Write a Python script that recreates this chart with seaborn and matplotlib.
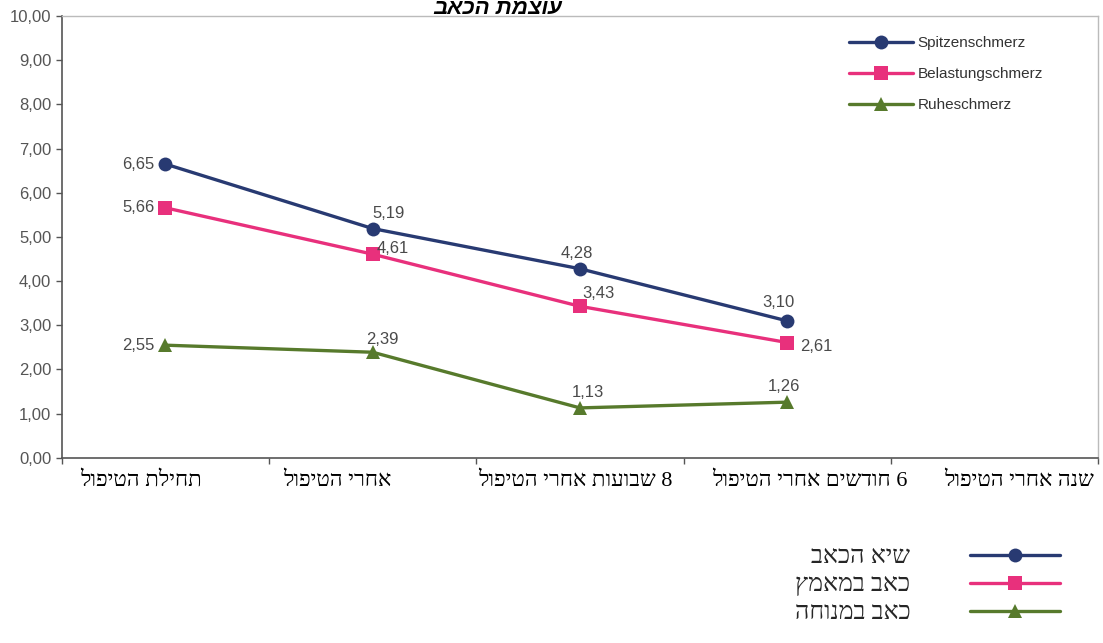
import numpy as np
import pandas as pd
import seaborn as sns
import matplotlib.pyplot as plt

# data
categories = ['תחילת הטיפול', 'אחרי הטיפול', '8 שבועות אחרי הטיפול',
              '6 חודשים אחרי הטיפול', 'שנה אחרי הטיפול']
series_de = ['Spitzenschmerz', 'Belastungschmerz', 'Ruheschmerz']
series_he = ['שיא הכאב', 'כאב במאמץ', 'כאב במנוחה']
spitzen = [6.65, 5.19, 4.28, 3.10]
belastung = [5.66, 4.61, 3.43, 2.61]
ruhe = [2.55, 2.39, 1.13, 1.26]
title = 'עוצמת הכאב'

colors = ['#283a72', '#e8307c', '#577a2c']
markers = ['o', 's', '^']
# label offsets in points (dx, dy, ha)
label_pos = [
    [(-8, 0, 'right'), (0, 11, 'left'), (-2, 11, 'center'), (-6, 13, 'center')],
    [(-8, 0, 'right'), (3, 4, 'left'), (2, 9, 'left'), (9, -3, 'left')],
    [(-8, 0, 'right'), (-5, 9, 'left'), (-6, 11, 'left'), (-2, 11, 'center')],
]


def rtl(s):
    # matplotlib has no bidi, so flip to visual order
    return s[::-1]


rows = []
for name, vals in zip(series_de, [spitzen, belastung, ruhe]):
    for i, v in enumerate(vals):
        rows.append({'x': i, 'value': v, 'series': name})
df = pd.DataFrame(rows)

sns.set_style('white')
plt.rcParams['font.family'] = ['Liberation Sans', 'DejaVu Sans']
hebrew_font = ['Liberation Serif', 'DejaVu Sans']

fig = plt.figure(figsize=(11.03, 6.43), dpi=100)
ax = fig.add_axes([0.056, 0.288, 0.9395, 0.687])

sns.lineplot(data=df, x='x', y='value', hue='series', style='series',
             palette=dict(zip(series_de, colors)),
             markers=dict(zip(series_de, markers)), dashes=False,
             markersize=10, linewidth=2.4, markeredgewidth=0, ax=ax)

for vals, pos, c in zip([spitzen, belastung, ruhe], label_pos, colors):
    for i, (v, (dx, dy, ha)) in enumerate(zip(vals, pos)):
        ax.annotate(f'{v:.2f}'.replace('.', ','), (i, v), xytext=(dx, dy),
                    textcoords='offset points', ha=ha, va='center',
                    fontsize=12, color='#4a4a4a')

ax.set_xlim(-0.5, len(categories) - 0.5)
ax.set_ylim(0, 10)
ax.set_yticks(np.arange(0, 11, 1))
ax.set_yticklabels([f'{t:.2f}'.replace('.', ',') for t in range(11)],
                   fontsize=12, color='#555555')
ax.set_xticks(np.arange(len(categories) + 1) - 0.5)
ax.set_xticklabels([])
ax.tick_params(axis='x', length=4, width=1, color='#555555', direction='out', bottom=True)
ax.tick_params(axis='y', length=4, width=1, color='#555555', direction='out', left=True)
ax.set_xlabel('')
ax.set_ylabel('')

for side in ['left', 'bottom']:
    ax.spines[side].set_color('#555555')
    ax.spines[side].set_linewidth(1.2)
for side in ['top', 'right']:
    ax.spines[side].set_color('#bbbbbb')
    ax.spines[side].set_linewidth(1)

# category labels, hand placed below the axis like the reference
label_dx = [-0.12, -0.17, -0.02, 0.11, 0.12]
for i, (cat, dx) in enumerate(zip(categories, label_dx)):
    ax.text(i + dx, -0.032, rtl(cat), transform=ax.get_xaxis_transform(),
            ha='center', va='top', fontsize=16, family=hebrew_font, color='black')

handles, _ = ax.get_legend_handles_labels()
ax.legend(handles, series_de, loc='upper right', bbox_to_anchor=(0.96, 0.985),
          frameon=False, fontsize=11, handlelength=4.2, handletextpad=0.3,
          labelspacing=1.1, labelcolor='#333333')

fig.legend(handles, [rtl(s) for s in series_he], loc='upper left',
           bbox_to_anchor=(0.7, 0.186), frameon=False, markerfirst=False,
           prop={'family': hebrew_font, 'size': 18},
           handlelength=3.6, handletextpad=2.4, labelspacing=0.22,
           alignment='right')

fig.text(0.451, 0.978, rtl(title), ha='center', va='baseline', fontsize=16,
         fontweight='bold', fontstyle='italic', color='black')

fig.savefig('out.png', dpi=100)
